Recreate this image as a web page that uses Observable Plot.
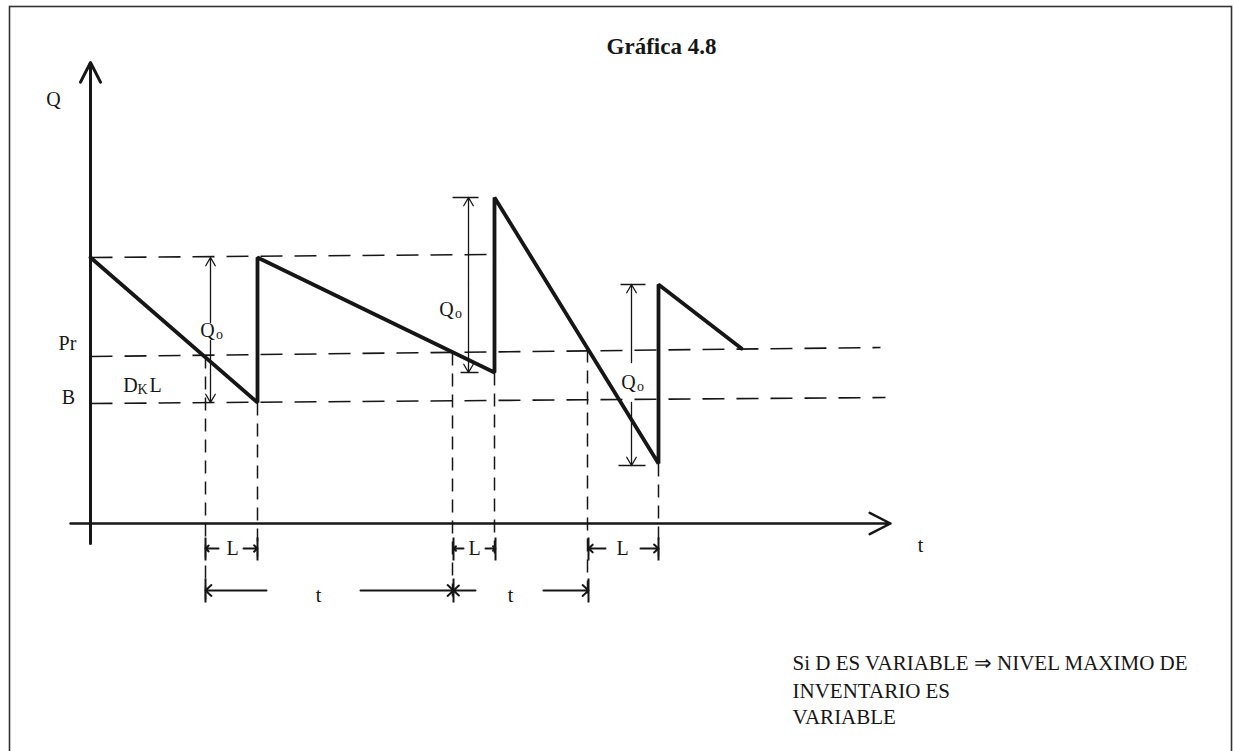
<!DOCTYPE html>
<html>
<head>
<meta charset="utf-8">
<script src="https://cdn.jsdelivr.net/npm/d3@7"></script>
<script src="https://cdn.jsdelivr.net/npm/@observablehq/plot@0.6"></script>
<style>
  html, body { margin: 0; padding: 0; background: #fff; }
  #chart svg { display: block; }
</style>
</head>
<body>
<div id="chart"></div>
<script>
// ---- Data (t = time along the horizontal axis, Q = inventory level) ----
// Sawtooth inventory path
const sawT = [0, 167, 167, 404, 404, 568, 568, 651];
const sawQ = [266, 121, 266, 151, 326, 60, 239, 175];

// Dashed reference levels (max level, reorder point Pr, buffer B)
const levelName = ["max", "Pr", "B"];
const levelT1 = [0, 0, 0];
const levelT2 = [403, 790, 795];
const levelQ1 = [266, 167, 120];
const levelQ2 = [269, 176, 126];

// Dashed drop lines to the time axis and below
const dropT = [115, 167, 362, 404, 497, 568];
const dropQtop = [168, 121, 171, 151, 174, 60];
const dropQbot = [-77, -33, -77, -33, -77, -33];

// Order quantity Qo dimension arrows (vertical)
const qoT = [120, 120, 378, 378, 541, 541];
const qoFrom = [201, 183, 240, 240, 161, 121];
const qoTo = [266, 121, 326, 151, 239, 58];

// T-bars at Qo arrow ends
const barT1 = [362, 370, 530, 528];
const barT2 = [388, 388, 555, 555];
const barQ = [326, 151, 239, 58];

// Lead time L dimension arrows (horizontal)
const lFrom = [128, 153, 373, 395, 515, 550];
const lTo = [115, 167, 363, 405, 498, 568];
const lQ = -25;
const lTickT = [115, 167, 363, 405, 498, 568];

// Cycle time t dimension arrows
const cFrom = [176, 270, 385, 453];
const cTo = [115, 363, 363, 498];
const cQ = -67;
const cTickT = [115, 363, 498];

// Axes
const axisYFrom = -20, axisYTo = 461;
const axisXFrom = -20, axisXTo = 800;

// Labels
const labelText = ["Q", "Pr", "B", "L", "L", "L", "t", "t", "t"];
const labelT = [-37, -23, -22, 142, 384, 532, 228, 420, 830];
const labelQ = [424, 180, 126, -25, -25, -25, -72, -72, -22];

const qoLabelT = [117, 356, 538];
const qoLabelQ = [193, 214, 141];

const noteLines = ["Si D ES VARIABLE \u21D2 NIVEL MAXIMO DE", "INVENTARIO ES", "VARIABLE"];
const noteQ = [-140, -168, -194];
const noteT = 702;

const title = "Gráfica 4.8";

// ---- Build tables ----
const saw = sawT.map((t, i) => ({t, Q: sawQ[i]}));
const levels = levelName.map((n, i) => ({n, t1: levelT1[i], t2: levelT2[i], q1: levelQ1[i], q2: levelQ2[i]}));
const drops = dropT.map((t, i) => ({t, q1: dropQtop[i], q2: dropQbot[i]}));
const qoArrows = qoT.map((t, i) => ({t, q1: qoFrom[i], q2: qoTo[i]}));
const bars = barQ.map((q, i) => ({t1: barT1[i], t2: barT2[i], q}));
const lArrows = lFrom.map((f, i) => ({t1: f, t2: lTo[i], q: lQ}));
const cArrows = cFrom.map((f, i) => ({t1: f, t2: cTo[i], q: cQ}));
const ticks = [
  ...lTickT.map(t => ({t, q1: lQ + 11, q2: lQ - 12})),
  ...cTickT.map(t => ({t, q1: cQ + 12, q2: cQ - 12}))
];
const labels = labelText.map((s, i) => ({s, t: labelT[i], q: labelQ[i]}));
const qoLabels = qoLabelT.map((t, i) => ({t, q: qoLabelQ[i]}));
const notes = noteLines.map((s, i) => ({s, q: noteQ[i], t: noteT}));

const ink = "#161616";
const serif = "Liberation Serif, Times New Roman, serif";

const chart = Plot.plot({
  width: 1234,
  height: 751,
  margin: 0,
  x: {domain: [-90, 1144], range: [0, 1234], axis: null},
  y: {domain: [-228, 523], range: [751, 0], axis: null},
  style: {background: "#fff"},
  marks: [
    Plot.frame({stroke: "#333", strokeWidth: 1.6, insetLeft: 9, insetTop: 6, insetRight: 3, insetBottom: -20}),
    // dashed levels
    Plot.link(levels, {x1: "t1", x2: "t2", y1: "q1", y2: "q2", stroke: ink, strokeWidth: 1.6, strokeDasharray: "22,12"}),
    // dashed drop lines
    Plot.link(drops, {x1: "t", x2: "t", y1: "q1", y2: "q2", stroke: ink, strokeWidth: 1.5, strokeDasharray: "13,8"}),
    // axes
    Plot.arrow([{a: 0}], {x1: 0, x2: 0, y1: axisYFrom, y2: axisYTo, stroke: ink, strokeWidth: 3, headLength: 11, headAngle: 54}),
    Plot.arrow([{a: 0}], {x1: axisXFrom, x2: axisXTo, y1: 0, y2: 0, stroke: ink, strokeWidth: 2.5, headLength: 14, headAngle: 54}),
    // sawtooth
    Plot.line(saw, {x: "t", y: "Q", stroke: ink, strokeWidth: 3.8, strokeLinejoin: "miter"}),
    // Qo arrows
    Plot.arrow(qoArrows, {x1: "t", x2: "t", y1: "q1", y2: "q2", stroke: ink, strokeWidth: 1.3, headLength: 11, headAngle: 60}),
    Plot.link(bars, {x1: "t1", x2: "t2", y1: "q", y2: "q", stroke: ink, strokeWidth: 1.5}),
    // L and t dimension arrows
    Plot.arrow(lArrows, {x1: "t1", x2: "t2", y1: "q", y2: "q", stroke: ink, strokeWidth: 2, headLength: 5.5, headAngle: 85}),
    Plot.arrow(cArrows, {x1: "t1", x2: "t2", y1: "q", y2: "q", stroke: ink, strokeWidth: 2, headLength: 6, headAngle: 85}),
    Plot.link(ticks, {x1: "t", x2: "t", y1: "q1", y2: "q2", stroke: ink, strokeWidth: 2}),
    // text
    Plot.text([title], {x: 571, y: 477, text: d => d, fontFamily: serif, fontWeight: "bold", fontSize: 23, fill: ink}),
    Plot.text(labels, {x: "t", y: "q", text: "s", fontFamily: serif, fontSize: 20, fill: ink}),
    Plot.text(qoLabels, {x: "t", y: "q", text: () => "Q", fontFamily: serif, fontSize: 20, fill: ink}),
    Plot.text(qoLabels, {x: d => d.t + 12, y: d => d.q - 4, text: () => "o", fontFamily: serif, fontSize: 14, fill: ink}),
    Plot.text([{t: 40, q: 138}], {x: "t", y: "q", text: () => "D", fontFamily: serif, fontSize: 20, fill: ink}),
    Plot.text([{t: 52, q: 134}], {x: "t", y: "q", text: () => "K", fontFamily: serif, fontSize: 14, fill: ink}),
    Plot.text([{t: 65, q: 138}], {x: "t", y: "q", text: () => "L", fontFamily: serif, fontSize: 20, fill: ink}),
    Plot.text(notes, {x: "t", y: "q", text: "s", textAnchor: "start", fontFamily: serif, fontSize: 21, fill: ink})
  ]
});
document.getElementById("chart").appendChild(chart);
</script>
</body>
</html>
